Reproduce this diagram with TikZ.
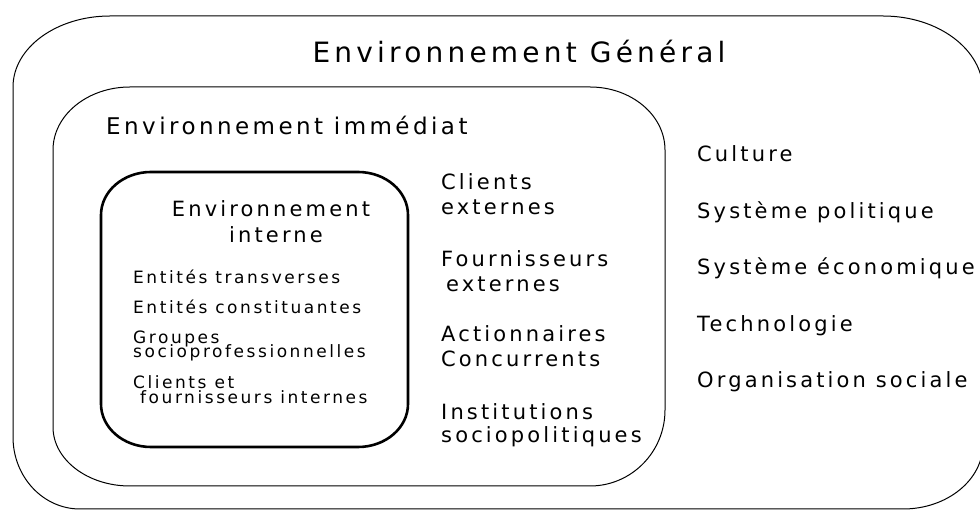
\documentclass[tikz,border=0pt]{standalone}
\usepackage{fontspec}
\newfontfamily\cs[LetterSpace=15]{DejaVu Sans}
\tikzset{
  thinbox/.style={draw=black, line width=1pt},
  thickbox/.style={draw=black, line width=2.6pt},
  lbl/.style={inner sep=0pt, anchor=base west, text=black},
  ctr/.style={inner sep=0pt, anchor=base, text=black},
  ftitle/.style={font=\cs\fontsize{28}{30}\selectfont},
  fmid/.style={font=\cs\fontsize{23}{26}\selectfont},
  fin/.style={font=\cs\fontsize{21}{24}\selectfont},
  fcol/.style={font=\cs\fontsize{21}{24}\selectfont},
  flist/.style={font=\cs\fontsize{17}{19}\selectfont},
}
\begin{document}
\begin{tikzpicture}[x=1pt,y=1pt]
\useasboundingbox (0,0) rectangle (980,511);
% outer box: L=13 R=983 T=495 B=2
\draw[thinbox] (110,495) -- (883,495)
  arc[start angle=90,end angle=0,x radius=100,y radius=75] -- (983,67)
  arc[start angle=0,end angle=-90,x radius=80,y radius=65] -- (80,2)
  arc[start angle=270,end angle=180,x radius=67,y radius=72] -- (13,424)
  arc[start angle=180,end angle=90,x radius=97,y radius=71] -- cycle;
% middle box: L=53 R=665 T=424 B=25
\draw[thinbox] (130,424) -- (590,424)
  arc[start angle=90,end angle=0,x radius=75,y radius=63] -- (665,101)
  arc[start angle=0,end angle=-90,x radius=75,y radius=76] -- (130,25)
  arc[start angle=270,end angle=180,x radius=77,y radius=59] -- (53,361)
  arc[start angle=180,end angle=90,x radius=77,y radius=63] -- cycle;
% inner box: L=101 R=408 T=339 B=64
\draw[thickbox] (151,339) -- (358,339)
  arc[start angle=90,end angle=0,x radius=50,y radius=43] -- (408,107)
  arc[start angle=0,end angle=-90,x radius=50,y radius=43] -- (151,64)
  arc[start angle=270,end angle=180,x radius=50,y radius=43] -- (101,296)
  arc[start angle=180,end angle=90,x radius=50,y radius=43] -- cycle;
% titles
\node[ctr,ftitle] (tgen) at (519,448) {Environnement Général};
\node[lbl,fmid] (timm) at (106,376) {Environnement immédiat};
\node[ctr,fin] (tint1) at (271,294) {Environnement};
\node[ctr,fin] (tint2) at (276,268) {interne};
% inner list
\node[lbl,flist] (i1) at (133,227) {Entités transverses};
\node[lbl,flist] (i2) at (133,197) {Entités constituantes};
\node[lbl,flist] (i3) at (133,167) {Groupes};
\node[lbl,flist] (i4) at (133,153) {socioprofessionnelles};
\node[lbl,flist] (i5) at (133,122) {Clients et};
\node[lbl,flist] (i6) at (140,107) {fournisseurs internes};
% middle column
\node[lbl,fcol] (m1) at (441,321) {Clients};
\node[lbl,fcol] (m2) at (441,296) {externes};
\node[lbl,fcol] (m3) at (441,244) {Fournisseurs};
\node[lbl,fcol] (m4) at (446,219) {externes};
\node[lbl,fcol] (m5) at (441,169) {Actionnaires};
\node[lbl,fcol] (m6) at (441,144) {Concurrents};
\node[lbl,fcol] (m7) at (441,91) {Institutions};
\node[lbl,fcol] (m8) at (441,68) {sociopolitiques};
% right column
\node[lbl,fcol] (r1) at (697,349) {Culture};
\node[lbl,fcol] (r2) at (697,292) {Système politique};
\node[lbl,fcol] (r3) at (697,236) {Système économique};
\node[lbl,fcol] (r4) at (697,179) {Technologie};
\node[lbl,fcol] (r5) at (697,123) {Organisation sociale};
\end{tikzpicture}
\end{document}
